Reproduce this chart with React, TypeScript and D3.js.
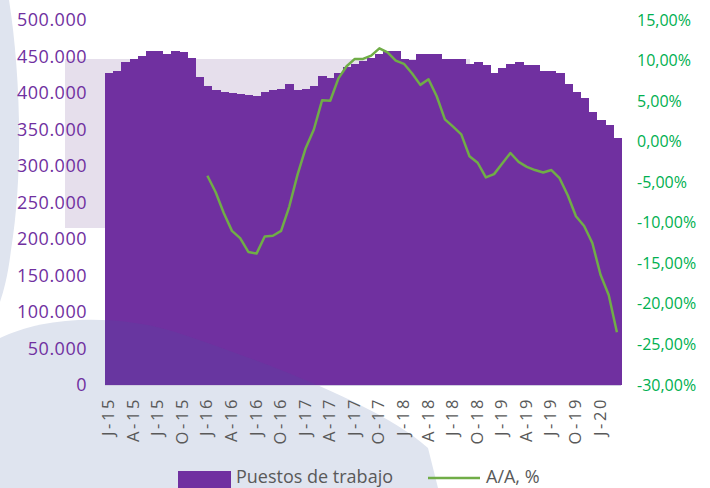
import React from 'react';
import * as d3 from 'd3';

// Puestos de trabajo, enero 2015 - marzo 2020 (miles)
const PUESTOS = [
  427, 430, 442, 447, 451, 458, 458, 454, 457, 456, 448, 422,
  409, 404, 402, 400, 399, 397, 396, 401, 404, 406, 412, 404,
  406, 410, 423, 420, 428, 436, 440, 444, 448, 454, 458, 457,
  446, 445, 453, 453, 453, 446, 446, 447, 440, 442, 438, 427,
  434, 440, 442, 439, 438, 430, 430, 427, 412, 402, 393, 374,
  363, 356, 339
].map(v => v * 1000);

// A/A, % (empieza en enero 2016)
const VARIACION: (number | null)[] = [
  null, null, null, null, null, null, null, null, null, null, null, null,
  -4.2, -6.2, -8.8, -11.0, -11.9, -13.6, -13.8, -11.7, -11.6, -11.0, -8.0, -4.1,
  -0.8, 1.5, 5.1, 5.05, 7.8, 9.3, 10.2, 10.2, 10.6, 11.5, 11.0, 10.0,
  9.6, 8.4, 7.0, 7.7, 5.6, 2.75, 1.85, 0.9, -1.8, -2.6, -4.4, -4.0,
  -2.7, -1.4, -2.5, -3.1, -3.5, -3.8, -3.5, -4.5, -6.6, -9.2, -10.4, -12.5,
  -16.4, -18.9, -23.5
];

// one label every 3 months
const MES_LETRA = ['J', 'A', 'J', 'O'];
const LEFT_TICKS = [0, 50000, 100000, 150000, 200000, 250000, 300000, 350000, 400000, 450000, 500000];
const RIGHT_TICKS = [15, 10, 5, 0, -5, -10, -15, -20, -25, -30];

const PURPLE = '#7030a0';
const GREEN = '#70ad47';
const GREEN_TEXT = '#00b050';

const fmtMiles = (v: number) => v === 0 ? '0' : d3.format(',')(v).replace(/,/g, '.');
const fmtPct = (v: number) => v.toFixed(2).replace('.', ',') + '%';

export default function App() {
  const left = 105, right = 621, top = 20, bottom = 385;
  const months = PUESTOS.map((_, i) => i);

  const x = d3.scaleBand<number>().domain(months).range([left, right]).padding(0);
  const y = d3.scaleLinear().domain([0, 500000]).range([bottom, top]);
  const y2 = d3.scaleLinear().domain([-30, 15]).range([bottom, top]);

  const line = d3.line<number | null>()
    .defined(d => d !== null)
    .x((_, i) => (x(i) as number) + x.bandwidth() / 2)
    .y(d => y2(d as number));

  const tickIdx = months.filter(i => i % 3 === 0);
  const tickLabel = (i: number) => MES_LETRA[(i / 3) % 4] + '-' + (15 + Math.floor(i / 12));

  const blob = 'M0,338 C40,318 110,312 175,332 C265,362 380,405 428,448 L438,488 L0,488 Z';
  const crescent = 'M0,0 L9,0 C20,70 24,170 11,250 C8,275 4,290 0,302 Z';

  return (
    <svg width={710} height={488} style={{ position: 'absolute', left: 0, top: 0, display: 'block', background: '#fff' }}
      fontFamily="'Open Sans', 'Noto Sans', sans-serif">
      <defs>
        <clipPath id="plot-clip">
          <rect x={left} y={0} width={right - left} height={bottom} />
        </clipPath>
      </defs>

      {/* watermark behind */}
      <rect x={65} y={59} width={405} height={169} fill="#e6dfec" />
      <path d={crescent} fill="#dfe4ef" />
      <path d={blob} fill="#dfe4ef" />

      {/* bars */}
      <g shapeRendering="crispEdges">
        {PUESTOS.map((v, i) => (
          <rect key={i} x={x(i)} y={y(v)} width={x.bandwidth() + 1} height={bottom - y(v)} fill={PURPLE} />
        ))}
      </g>

      {/* watermark over the bars */}
      <path d={blob} fill="#3c5fa0" opacity={0.15} clipPath="url(#plot-clip)" />

      <line x1={left} x2={right} y1={bottom + 0.5} y2={bottom + 0.5} stroke="#d0cde0" strokeWidth={1} />

      {/* A/A line */}
      <path d={line(VARIACION) || ''} fill="none" stroke={GREEN} strokeWidth={2.5} strokeLinejoin="round" />

      {/* left axis */}
      {LEFT_TICKS.map(t => (
        <text key={t} x={87} y={y(t)} dy="0.35em" textAnchor="end" fontSize={18} letterSpacing={0.5} fill={PURPLE}>
          {fmtMiles(t)}
        </text>
      ))}

      {/* right axis */}
      {RIGHT_TICKS.map(t => (
        <text key={t} x={637} y={y2(t)} dy="0.35em" fontSize={16} fill={GREEN_TEXT}>
          {fmtPct(t)}
        </text>
      ))}

      {/* x labels */}
      {tickIdx.map(i => {
        const cx = (x(i) as number) + x.bandwidth() / 2;
        return (
          <text key={i} transform={`translate(${cx + 5},${397}) rotate(-90)`} textAnchor="end"
            fontSize={16.5} letterSpacing={2.6} fill="#595959">
            {tickLabel(i)}
          </text>
        );
      })}

      {/* legend (kept just inside the bottom edge) */}
      <rect x={178} y={471} width={53} height={17} fill={PURPLE} />
      <text x={236} y={483} fontSize={18} fill="#595959">Puestos de trabajo</text>
      <line x1={428} x2={480} y1={478} y2={478} stroke={GREEN} strokeWidth={2.5} />
      <text x={486} y={483} fontSize={18} fill="#595959">A/A, %</text>
    </svg>
  );
}
